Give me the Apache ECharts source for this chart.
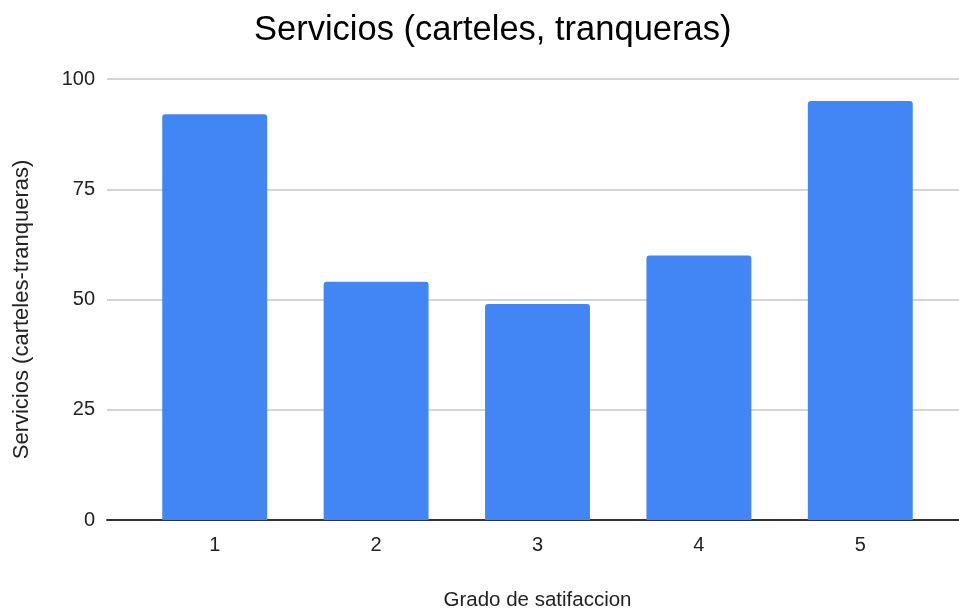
<!DOCTYPE html>
<html>
<head>
<meta charset="utf-8">
<script src="https://cdn.jsdelivr.net/npm/echarts@6/dist/echarts.min.js"></script>
<style>
  html, body { margin: 0; padding: 0; background: #fff; }
  #main { width: 959px; height: 610px; }
</style>
</head>
<body>
<div id="main"></div>
<script>
// datos
const categories = ['1', '2', '3', '4', '5'];
const values = [92, 54, 49, 60, 95];
const yTicks = [0, 25, 50, 75, 100];

const yMin = yTicks[0];
const yMax = yTicks[yTicks.length - 1];

const chart = echarts.init(document.getElementById('main'));
chart.setOption({
  textStyle: { fontFamily: 'Liberation Sans, Arial, sans-serif' },
  title: {
    text: 'Servicios (carteles, tranqueras)',
    left: 249,
    top: 8,
    textStyle: { fontSize: 34.5, fontWeight: 'normal', color: '#000' }
  },
  // grid 0: lineas de fondo y eje; grid 1: barras (con margen como en Google Charts)
  grid: [
    { left: 107, right: 0, top: 79, bottom: 90, outerBoundsMode: 'none' },
    { left: 134, right: 18, top: 79, bottom: 90, outerBoundsMode: 'none' }
  ],
  xAxis: [{
    type: 'category',
    gridIndex: 0,
    data: categories,
    axisTick: { show: false },
    axisLabel: { show: false },
    axisLine: { lineStyle: { color: '#333', width: 2 } }
  }, {
    type: 'category',
    gridIndex: 1,
    data: categories,
    name: 'Grado de satifaccion',
    nameLocation: 'middle',
    nameGap: 70,
    nameTextStyle: { fontSize: 20.5, color: '#222' },
    axisTick: { show: false },
    axisLine: { show: false },
    axisLabel: { fontSize: 20, color: '#222', margin: 15 }
  }],
  yAxis: [{
    type: 'value',
    gridIndex: 0,
    min: yMin,
    max: yMax,
    interval: 25,
    name: 'Servicios (carteles-tranqueras)',
    nameLocation: 'middle',
    nameGap: 74,
    nameTextStyle: { fontSize: 22, color: '#222', padding: [0, 20, 0, 0] },
    axisLine: { show: false },
    axisTick: { show: false },
    axisLabel: { fontSize: 20, color: '#222', margin: 12 },
    splitLine: { lineStyle: { color: '#d4d4d4', width: 2 } }
  }, {
    type: 'value',
    gridIndex: 1,
    min: yMin,
    max: yMax,
    interval: 25,
    show: false,
    splitLine: { show: false }
  }],
  series: [{
    type: 'bar',
    xAxisIndex: 1,
    yAxisIndex: 1,
    data: values,
    barWidth: '65%',
    itemStyle: { color: '#4285F4', borderRadius: [3, 3, 0, 0] }
  }]
});
</script>
</body>
</html>
